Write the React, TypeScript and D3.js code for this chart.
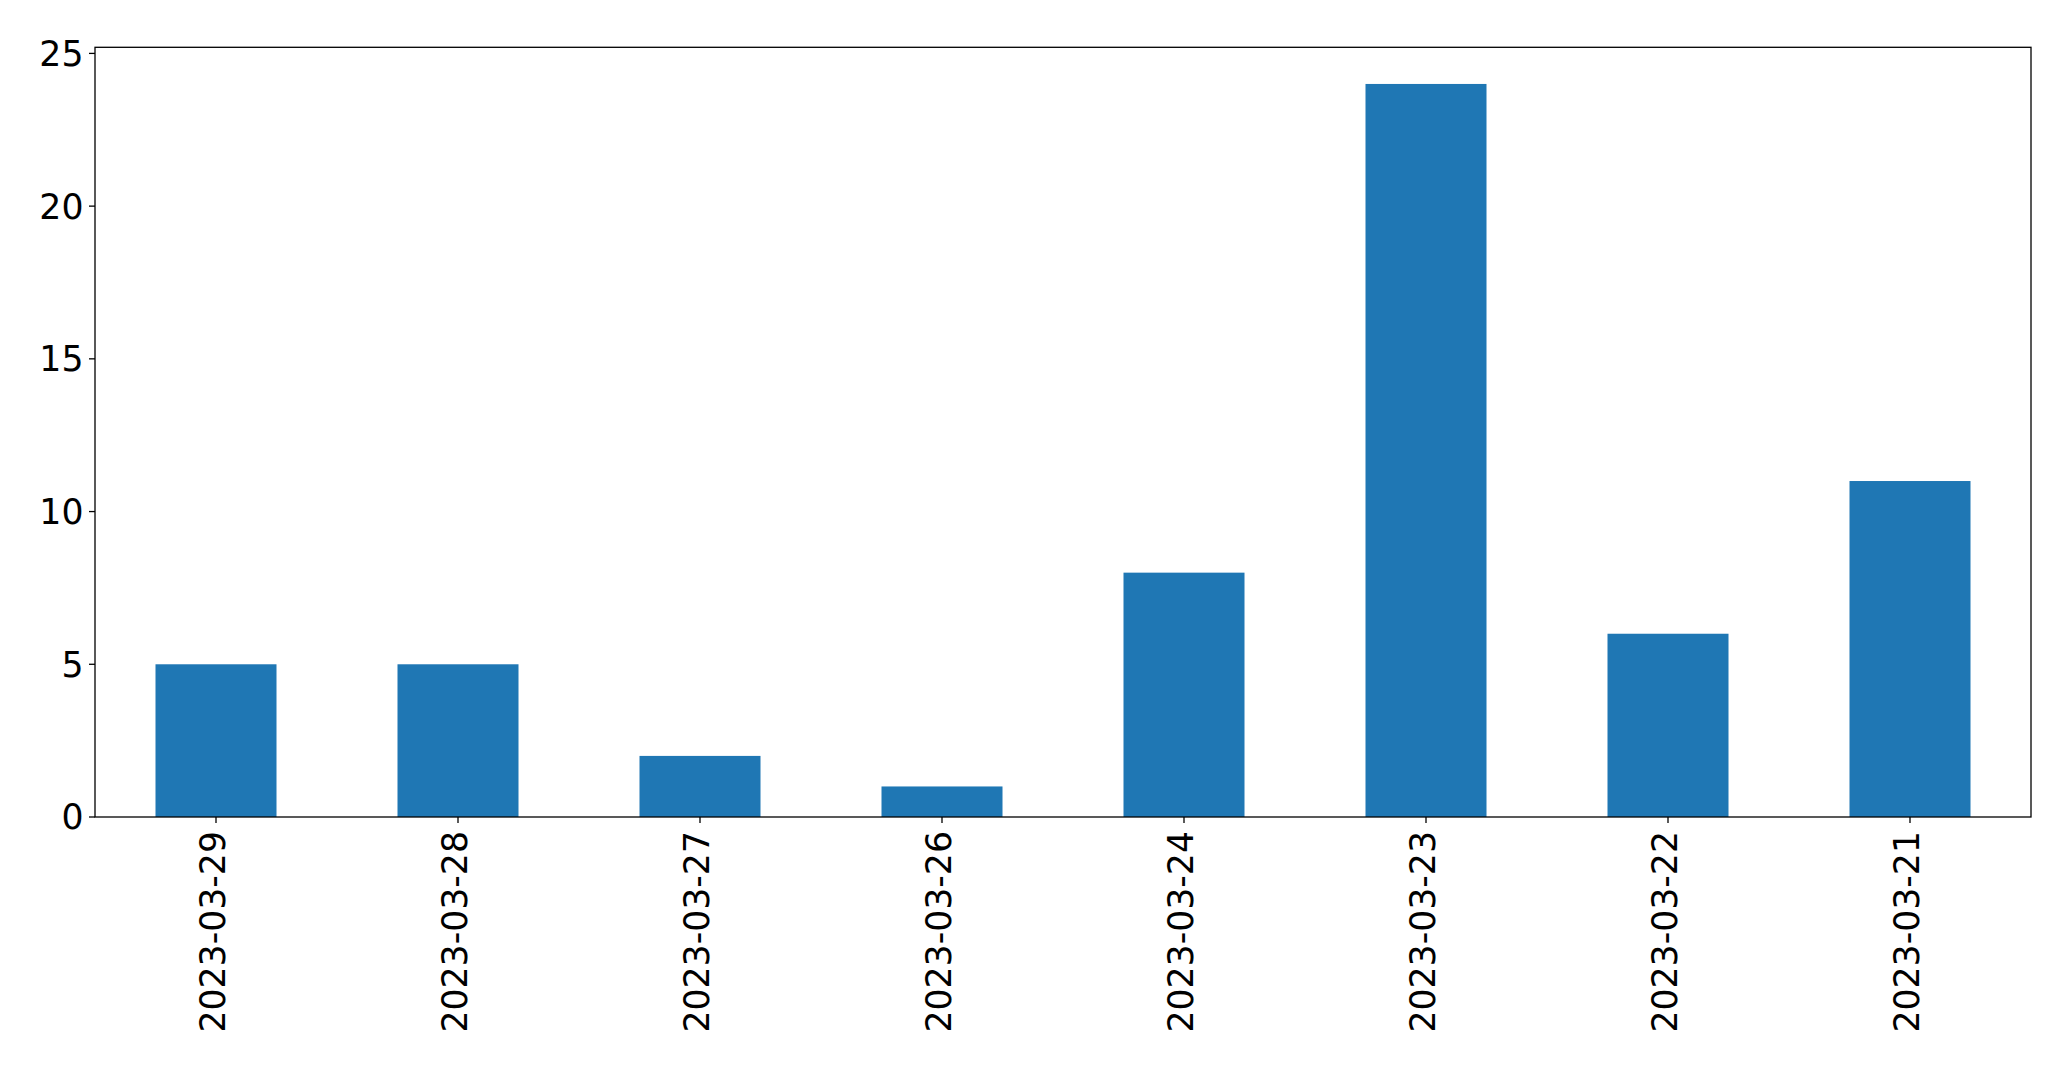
import React from "react";
import * as d3 from "d3";

const categories = ["2023-03-29", "2023-03-28", "2023-03-27", "2023-03-26", "2023-03-24", "2023-03-23", "2023-03-22", "2023-03-21"];
const values = [5, 5, 2, 1, 8, 24, 6, 11];
const yTicks = [0, 5, 10, 15, 20, 25];

const W = 2071, H = 1069;
const left = 95, right = 2031, top = 47.3, bottom = 817;
const FONT = "'DejaVu Sans', sans-serif";
const FS = 34.7;

export default function App() {
  const x = d3.scaleLinear().domain([-0.5, categories.length - 0.5]).range([left, right]);
  const ymax = d3.max(values)! * 1.05;
  const y = d3.scaleLinear().domain([0, ymax]).range([bottom, top]);
  const bw = x(0.25) - x(-0.25);
  return (
    <svg width={W} height={H} style={{ position: "absolute", left: 0, top: 0, background: "#fff" }}>
      {values.map((v, i) => (
        <rect key={i} x={x(i) - bw / 2} y={y(v)} width={bw} height={y(0) - y(v)} fill="#1f77b4" />
      ))}
      <rect x={left} y={top} width={right - left} height={bottom - top} fill="none" stroke="#000" strokeWidth={1.3} />
      {yTicks.map((t) => (
        <g key={t}>
          <line x1={left - 6} x2={left} y1={y(t)} y2={y(t)} stroke="#000" strokeWidth={1.3} />
          <text x={left - 11.5} y={y(t)} dy="0.36em" textAnchor="end" fontFamily={FONT} fontSize={FS} fill="#000">{t}</text>
        </g>
      ))}
      {categories.map((c, i) => (
        <g key={c}>
          <line x1={x(i)} x2={x(i)} y1={bottom} y2={bottom + 6} stroke="#000" strokeWidth={1.3} />
          <text transform={`translate(${x(i)},${bottom + 14}) rotate(-90)`} dy="0.265em" textAnchor="end" fontFamily={FONT} fontSize={FS} fill="#000">{c}</text>
        </g>
      ))}
    </svg>
  );
}
